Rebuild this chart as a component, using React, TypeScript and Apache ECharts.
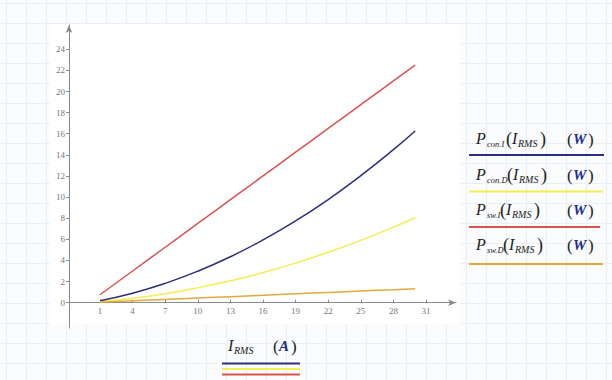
import React, { useEffect, useRef } from "react";
import * as echarts from "echarts";

// Current values (A)
const currents = [1, 4, 7, 10, 13, 16, 19, 22, 25, 28, 30];
// Loss values (W)
const pConI = [0.19, 0.9, 1.83, 2.98, 4.35, 5.94, 7.74, 9.77, 12.03, 14.49, 16.26];
const pConD = [0.08, 0.41, 0.84, 1.4, 2.07, 2.85, 3.75, 4.77, 5.9, 7.15, 8.04];
const pSwI = [0.75, 3.0, 5.25, 7.5, 9.75, 12.0, 14.25, 16.5, 18.75, 21.0, 22.5];
const pSwD = [0.04, 0.18, 0.31, 0.44, 0.57, 0.7, 0.84, 0.97, 1.1, 1.23, 1.32];

const xTicks = [1, 4, 7, 10, 13, 16, 19, 22, 25, 28, 31];
const yTicks = [0, 2, 4, 6, 8, 10, 12, 14, 16, 18, 20, 22, 24];

const legendSubs = ["con.I", "con.D", "sw.I", "sw.D"];

const NAVY = "#2b2e80";
const YELLOW = "#f3ee52";
const RED = "#d9534f";
const ORANGE = "#e3a83c";
const colors = [NAVY, YELLOW, RED, ORANGE];

const SERIF = "'Liberation Serif', 'DejaVu Serif', serif";

function txt(text: string, x: number, baseline: number, size: number, opts: any = {}) {
  return {
    type: "text",
    x,
    y: baseline - size * 0.34,
    z: 5,
    style: {
      text,
      font: `${opts.bold ? "bold " : ""}${opts.italic ? "italic " : ""}${size}px ${SERIF}`,
      fill: opts.fill || "#222",
      verticalAlign: "middle",
      align: "left",
    },
  };
}

function legendEntry(sub: string, baseline: number, lineY: number, color: string, px: number, lineEnd: number) {
  const els: any[] = [];
  const x0 = 476;
  els.push(txt("P", x0, baseline, 16, { italic: true }));
  els.push(txt(sub, x0 + 11, baseline + 3, 8.5, { italic: true }));
  els.push(txt("(", px, baseline + 1, 18));
  els.push(txt("I", px + 6, baseline, 16, { italic: true }));
  els.push(txt("RMS", px + 12, baseline + 3, 10, { italic: true }));
  els.push(txt(")", px + 34, baseline + 1, 18));
  const wx = 567;
  els.push(txt("(", wx, baseline + 1, 17));
  els.push(txt("W", wx + 6, baseline, 15, { italic: true, bold: true, fill: "#1d2a8c" }));
  els.push(txt(")", wx + 21, baseline + 1, 17));
  els.push({
    type: "line",
    z: 5,
    shape: { x1: 469, y1: lineY, x2: lineEnd, y2: lineY },
    style: { stroke: color, lineWidth: 2 },
  });
  return els;
}

export default function App() {
  const ref = useRef<HTMLDivElement>(null);
  useEffect(() => {
    if (!ref.current) return;
    const chart = echarts.init(ref.current, null, { renderer: "svg" });

    const bg: any[] = [];
    for (let k = 0; k <= 30; k++) {
      const x = 6.5 + 20 * k;
      bg.push({ type: "line", z: -10, shape: { x1: x, y1: 0, x2: x, y2: 380 }, style: { stroke: "#e8eff5", lineWidth: 1 } });
    }
    for (let k = 0; k <= 19; k++) {
      const y = 3.5 + 20 * k;
      bg.push({ type: "line", z: -10, shape: { x1: 0, y1: y, x2: 612, y2: y }, style: { stroke: "#e8eff5", lineWidth: 1 } });
    }
    bg.push({ type: "rect", z: -5, shape: { x: 50, y: 24, width: 410, height: 300 }, style: { fill: "#ffffff" } });

    const legends: any[] = [];
    const baselines = [144, 180, 215, 250];
    const lineYs = [155, 191.5, 227, 264];
    const ends = [604, 603, 600, 603];
    const parenX = [506, 507, 500, 503];
    legendSubs.forEach((s, i) => {
      legends.push(...legendEntry(s, baselines[i], lineYs[i], colors[i], parenX[i], ends[i]));
    });

    // x-axis title
    const xt: any[] = [];
    xt.push(txt("I", 228, 351, 16, { italic: true }));
    xt.push(txt("RMS", 234, 354, 10, { italic: true }));
    xt.push(txt("(", 273, 352, 17));
    xt.push(txt("A", 279, 351, 15, { italic: true, bold: true, fill: "#1d2a8c" }));
    xt.push(txt(")", 291, 352, 17));
    [[363.5, NAVY], [369, YELLOW], [374.5, RED]].forEach(([y, c]: any) => {
      xt.push({ type: "line", z: 5, shape: { x1: 222, y1: y, x2: 300, y2: y }, style: { stroke: c, lineWidth: 1.8 } });
    });

    const seriesData = [pConI, pConD, pSwI, pSwD];
    const axisColor = "#8a8a8a";
    chart.setOption({
      animation: false,
      backgroundColor: "#fbfcfd",
      grid: { left: 69, top: 25, width: 387, height: 303, containLabel: false },
      xAxis: {
        type: "value",
        min: -1.853,
        max: 33.76,
        axisLine: {
          show: true,
          onZero: true,
          symbol: ["none", "arrow"],
          symbolSize: [5, 8],
          lineStyle: { color: axisColor, width: 1 },
        },
        axisTick: { show: true, inside: true, length: 3, customValues: xTicks, lineStyle: { color: axisColor } },
        axisLabel: {
          customValues: xTicks,
          color: "#777",
          fontFamily: SERIF,
          fontSize: 9,
          margin: -22,
        },
        splitLine: { show: false },
      },
      yAxis: {
        type: "value",
        min: -2.4,
        max: 26.3,
        axisLine: {
          show: true,
          onZero: false,
          symbol: ["none", "arrow"],
          symbolSize: [5, 8],
          lineStyle: { color: axisColor, width: 1 },
        },
        axisTick: { show: true, length: 3, customValues: yTicks, lineStyle: { color: axisColor } },
        axisLabel: {
          customValues: yTicks,
          color: "#777",
          fontFamily: SERIF,
          fontSize: 9,
          margin: 4,
        },
        splitLine: { show: false },
      },
      series: seriesData.map((d, i) => ({
        type: "line",
        smooth: true,
        symbol: "none",
        data: currents.map((x, j) => [x, d[j]]),
        lineStyle: { color: colors[i], width: 1.5 },
        itemStyle: { color: colors[i] },
        z: i === 1 ? 2 : 3,
      })),
      graphic: { elements: [...bg, ...legends, ...xt] },
    });
    return () => chart.dispose();
  }, []);
  return <div ref={ref} style={{ position: "fixed", left: 0, top: 0, width: 612, height: 380 }} />;
}
